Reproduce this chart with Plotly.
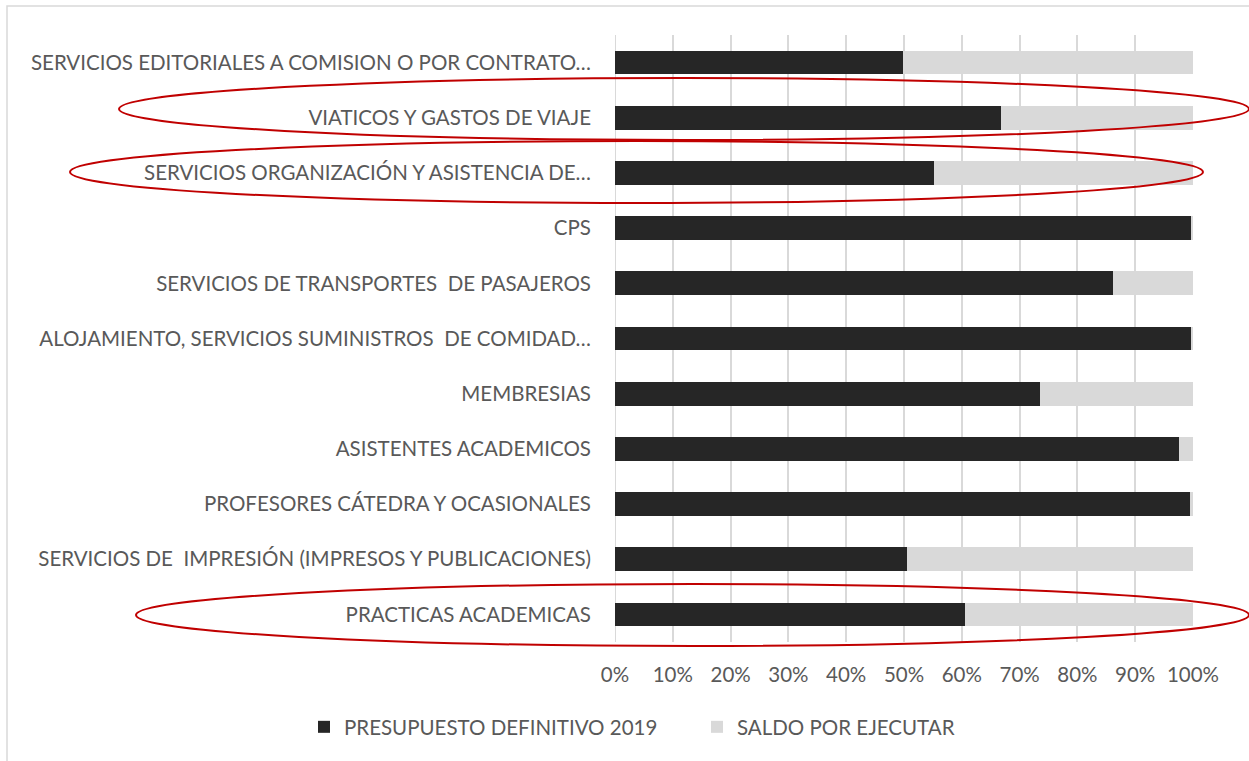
import plotly.graph_objects as go

categorias = [
    "SERVICIOS EDITORIALES A COMISION O POR CONTRATO…",
    "VIATICOS Y GASTOS DE VIAJE",
    "SERVICIOS ORGANIZACIÓN Y ASISTENCIA DE…",
    "CPS",
    "SERVICIOS DE TRANSPORTES  DE PASAJEROS",
    "ALOJAMIENTO, SERVICIOS SUMINISTROS  DE COMIDAD…",
    "MEMBRESIAS",
    "ASISTENTES ACADEMICOS",
    "PROFESORES CÁTEDRA Y OCASIONALES",
    "SERVICIOS DE  IMPRESIÓN (IMPRESOS Y PUBLICACIONES)",
    "PRACTICAS ACADEMICAS",
]
presupuesto_definitivo = [49.8, 66.7, 55.2, 99.8, 86.2, 99.8, 73.5, 97.5, 99.5, 50.6, 60.5]
saldo_por_ejecutar = [100 - v for v in presupuesto_definitivo]
serie_nombres = ["PRESUPUESTO DEFINITIVO 2019", "SALDO POR EJECUTAR"]
x_ticks = list(range(0, 101, 10))
x_tick_labels = [f"{t}%" for t in x_ticks]

FONT = "Lato, Liberation Sans, sans-serif"
GRAY = "#595959"
FS = 20.5

W_PX, H_PX = 1249, 761
L, R, T, B = 615, 1193, 35, 642


def px_x(p):
    return (p - L) / (R - L)


def px_y(p):
    return (B - p) / (B - T)


fig = go.Figure()
fig.add_trace(go.Bar(
    y=categorias, x=presupuesto_definitivo, orientation="h",
    name=serie_nombres[0], marker=dict(color="#262626", line=dict(width=0)),
    width=0.43,
))
fig.add_trace(go.Bar(
    y=categorias, x=saldo_por_ejecutar, orientation="h",
    name=serie_nombres[1], marker=dict(color="#d9d9d9", line=dict(width=0)),
    width=0.43,
))

shapes = []
# chart border
shapes.append(dict(type="rect", xref="paper", yref="paper",
                   x0=px_x(7), x1=px_x(1262), y0=px_y(6), y1=px_y(770),
                   line=dict(color="#d9d9d9", width=1.5), layer="below"))
# red highlight ellipses
for (x0, x1, y0, y1) in [(119, 1249, 78, 140), (70, 1203, 141, 203), (136, 1249, 584, 646)]:
    shapes.append(dict(type="circle", xref="paper", yref="paper",
                       x0=px_x(x0), x1=px_x(x1), y0=px_y(y1), y1=px_y(y0),
                       line=dict(color="#c00000", width=2), layer="above"))

fig.update_layout(
    width=W_PX, height=H_PX,
    margin=dict(l=L, r=W_PX - R, t=T, b=H_PX - B, autoexpand=False),
    barmode="stack",
    plot_bgcolor="white", paper_bgcolor="white",
    font=dict(family=FONT, size=FS, color=GRAY),
    showlegend=True,
    legend=dict(orientation="h",
                x=px_x(304), xanchor="left",
                y=px_y(727), yanchor="middle",
                bgcolor="rgba(0,0,0,0)",
                font=dict(family=FONT, size=FS, color=GRAY),
                itemwidth=30, traceorder="normal", entrywidth=348),
    shapes=shapes,
)
fig.update_xaxes(range=[0, 100], tickvals=x_ticks, ticktext=x_tick_labels,
                 showgrid=True, gridcolor="#d9d9d9", gridwidth=2,
                 zeroline=False, showline=False, ticks="",
                 tickfont=dict(family=FONT, size=FS, color=GRAY),
                 ticklabelstandoff=18, fixedrange=True)
fig.update_yaxes(autorange="reversed", showgrid=False, zeroline=False,
                 showline=False, ticks="",
                 tickfont=dict(family=FONT, size=FS, color=GRAY),
                 ticklabelstandoff=23, fixedrange=True)
fig.add_vline(x=0, line=dict(color="#d9d9d9", width=2), layer="below")

fig.write_html("out.html", config={"displayModeBar": False},
               post_script="document.body.style.margin='0';document.body.style.overflow='hidden';")
